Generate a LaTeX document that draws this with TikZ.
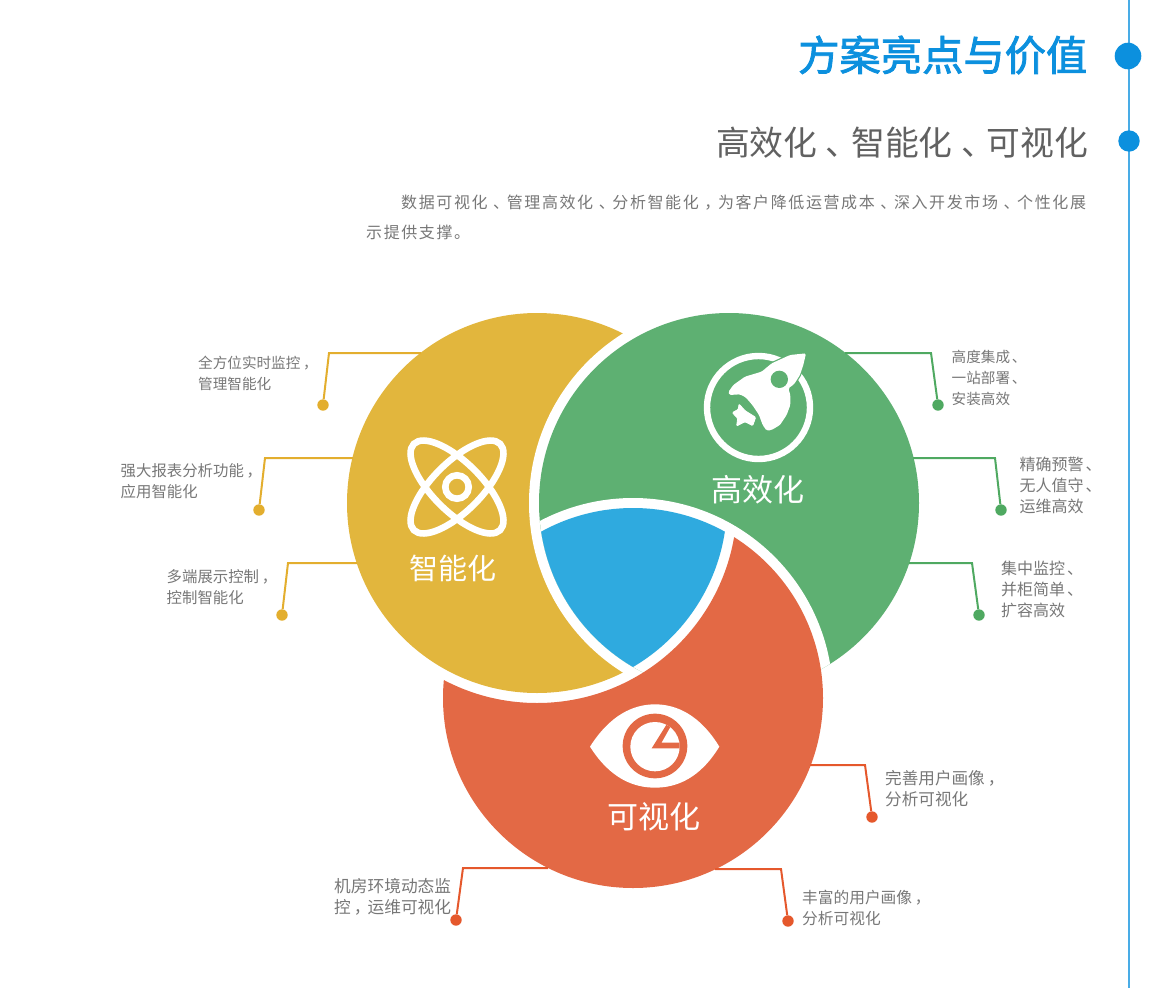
\documentclass[tikz,border=0pt]{standalone}
\usepackage{fontspec}
\setmainfont{Noto Sans CJK SC}
\newfontfamily\bodyfont[LetterSpace=10]{Noto Sans CJK SC}
\newfontfamily\titlefont[FakeBold=2]{Noto Sans CJK SC}
\usetikzlibrary{positioning}

\definecolor{capyellow}{HTML}{E2B63D}
\definecolor{capgreen}{HTML}{5EB072}
\definecolor{capred}{HTML}{E36945}
\definecolor{capblue}{HTML}{2FAADF}
\definecolor{linkyellow}{HTML}{E3AE2E}
\definecolor{linkgreen}{HTML}{4FA961}
\definecolor{linkred}{HTML}{E5582C}
\definecolor{railblue}{HTML}{0C90DE}
\definecolor{textgray}{HTML}{777777}

% marks sit further right in their cell than the font has them
\newcommand{\headdun}{\kern.25em、\kern-.25em}
\newcommand{\bodydun}{\kern.35em、\kern-.15em}
\newcommand{\bodydou}{\kern.35em，\kern-.15em}
\newcommand{\labdun}{\kern.12em、\kern-.12em}
\newcommand{\labdou}{\kern.18em，\kern-.18em}

\tikzset{
  dotmark/.style={circle,inner sep=0pt,minimum size=11.4pt},
  sidetext/.style={anchor=west,inner sep=0pt,align=left,text=textgray},
  captext/.style={inner sep=0pt,text=white,font=\fontsize{31}{31}\selectfont},
}

\begin{document}
\begin{tikzpicture}[x=1pt,y=-1pt]
  \useasboundingbox (0,0) rectangle (1170,988);

  \coordinate (ycen) at (537,503);
  \coordinate (gcen) at (729,503);
  \coordinate (rcen) at (633,698);

  % each disc is cut by the gap round the next one
  \fill[capyellow] (ycen) circle (190pt);
  \fill[white] (gcen) circle (200pt);
  \fill[capgreen] (gcen) circle (190pt);
  \begin{scope}
    \clip (gcen) circle (190pt);
    \fill[white] (rcen) circle (200pt);
  \end{scope}
  \begin{scope}[even odd rule]
    \clip (0,0) rectangle (1170,988) (ycen) circle (200pt);
    \fill[capred] (rcen) circle (190pt);
  \end{scope}
  \begin{scope}
    \clip (ycen) circle (190pt);
    \clip (gcen) circle (190pt);
    \fill[capblue] (rcen) circle (190pt);
  \end{scope}

  % rail on the right
  \coordinate (railtop) at (1129,0);
  \coordinate (railend) at (1129,988);
  \draw[color=railblue!75!white,line width=1.5pt] (railtop) -- (railend);
  \node[circle,fill=railblue,inner sep=0pt,minimum size=26.6pt] (titledot) at (1128,56) {};
  \node[circle,fill=railblue,inner sep=0pt,minimum size=21.4pt] (subdot) at (1129,141) {};

  % heading
  \node[anchor=east,inner sep=0pt,text=railblue,font=\fontsize{41.3}{41}\titlefont] (title) at (1087.5,55) {方案亮点与价值};
  \node[anchor=east,inner sep=0pt,text=black!62,font=\fontsize{33.8}{34}\selectfont] (subtitle) at (1088,143) {高效化\headdun 智能化\headdun 可视化};
  \node[anchor=north west,inner sep=0pt,align=left,text=textgray,font=\fontsize{16}{30}\bodyfont] (intro) at (366,195)
    {\hspace*{35pt}数据可视化\bodydun 管理高效化\bodydun 分析智能化\bodydou 为客户降低运营成本\bodydun 深入开发市场\bodydun 个性化展\\示提供支撑。};

  % callouts
  \foreach \n/\c/\ax/\ay/\bx/\dx/\dy/\tx/\ty/\s/\l in {
    a/linkyellow/421/353/329/323/405/198/373.5/14.6/{全方位实时监控\labdou\\管理智能化},
    b/linkyellow/353/458/265/259/510/120.5/481.5/15.4/{强大报表分析功能\labdou\\应用智能化},
    c/linkyellow/357/563/288/282/615/166.5/587.5/15.4/{多端展示控制\labdou\\控制智能化},
    d/linkgreen/845/353/931/938/405/951.5/378/14.6/{高度集成\labdun\\一站部署\labdun\\安装高效},
    e/linkgreen/913/458/995/1001/510/1019.5/485/16/{精确预警\labdun\\无人值守\labdun\\运维高效},
    f/linkgreen/909/563/972/979/615/1001/589/16/{集中监控\labdun\\并柜简单\labdun\\扩容高效},
    g/linkred/810/765/865/872/817/885/788.5/16.6/{完善用户画像\labdou\\分析可视化},
    h/linkred/715/869/781/788/921/802/907.5/15.7/{丰富的用户画像\labdou\\分析可视化},
    i/linkred/548/868/463/456/920/334/896.5/16.7/{机房环境动态监\\控\labdou 运维可视化}} {
    \coordinate (start\n) at (\ax,\ay);
    \coordinate (elbow\n) at (\bx,\ay);
    \node[dotmark,fill=\c] (dot\n) at (\dx,\dy) {};
    \draw[color=\c,line width=2pt] (start\n) -- (elbow\n) -- (dot\n);
    \node[sidetext,font=\fontsize{\s}{21}\selectfont] (label\n) at (\tx,\ty) {\l};
  }

  % captions
  \node[captext,font=\fontsize{29}{29}\selectfont] (smart) at (453,568) {智能化};
  \node[captext] (fast) at (758,490) {高效化};
  \node[captext] (vis) at (654,817) {可视化};

  % atom
  \begin{scope}[shift={(457,487)}]
    \draw[white,line width=6.6pt,rotate=45] (0,0) ellipse (61pt and 24.4pt);
    \draw[white,line width=6.6pt,rotate=-45] (0,0) ellipse (61pt and 24.4pt);
    \draw[white,line width=6.6pt] (0,0) circle (11.7pt);
  \end{scope}

  % rocket
  \draw[white,line width=6.4pt] (758.5,407.5) circle (51.5pt);
  \begin{scope}[shift={(690,340)},x=0.3333pt,y=-0.3333pt]
    \fill[white,rounded corners=1.5pt,preaction={draw=capgreen,line width=2.4pt}]
      (348,40) -- (300,45) -- (245,70) -- (215,95) -- (165,110) -- (130,135) -- (115,156) -- (118,165)
      -- (150,163) -- (167,172) -- (187,195) -- (207,225) -- (218,255) -- (230,272) -- (245,270)
      -- (270,255) -- (290,225) -- (301,195) -- (301,165) -- (295,145) -- (312,133) -- (330,105) -- (340,75) -- cycle;
    \fill[capgreen] (268,118) circle (26);
    \filldraw[white,line width=0.8pt,rounded corners=1pt]
      (147,192) -- (165,212) -- (197,232) -- (188,257) -- (165,245) -- (140,258) -- (143,235)
      -- (127,218) -- (145,208) -- cycle;
  \end{scope}

  % eye
  \begin{scope}[shift={(580,695)},x=0.3333pt,y=-0.3333pt]
    \fill[white] (30,155) .. controls (90,60) and (160,28) .. (225,28)
      .. controls (290,28) and (360,60) .. (418,155)
      .. controls (360,250) and (290,278) .. (225,278)
      .. controls (160,278) and (90,250) .. (30,155) -- cycle;
    \fill[capred] (225,153) circle (97);
    \fill[white] (225,155) circle (74);
    \begin{scope}
      \clip (225,155) circle (74);
      \fill[capred] (215,160) -- (265,80) -- (330,80) -- (330,160) -- cycle;
      \fill[white] (245,143) -- (272,95) -- (330,95) -- (330,143) -- cycle;
    \end{scope}
  \end{scope}
\end{tikzpicture}
\end{document}
